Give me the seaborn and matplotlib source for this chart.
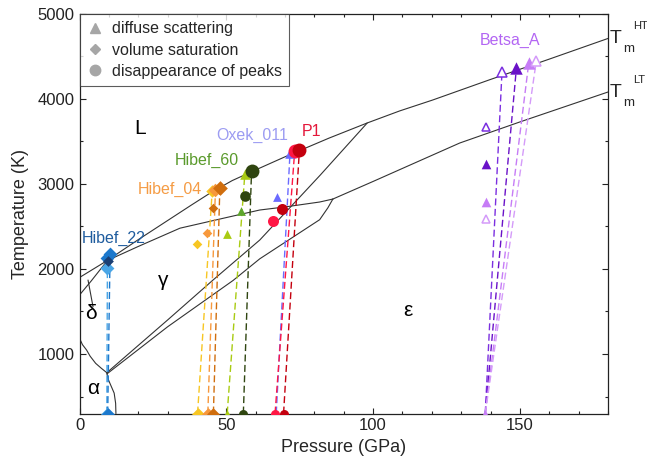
import matplotlib
matplotlib.use('Agg')
import matplotlib.pyplot as plt
import seaborn as sns
from matplotlib.lines import Line2D
from matplotlib.ticker import MultipleLocator
from matplotlib.transforms import blended_transform_factory

# ---------------- data ----------------
T_BASE = 300  # room temperature start of each ramp

# phase boundaries (P in GPa, T in K)
ht_p = [0, 9, 20, 30, 38, 44.8, 52, 58.4, 70, 85, 98, 109, 120.3, 140, 160, 180]
ht_t = [1900, 2090, 2345, 2570, 2750, 2900, 3040, 3141, 3320, 3540, 3718, 3859, 3988, 4230, 4469, 4712]
lt_p = [86.3, 100, 115, 129.5, 150, 180]
lt_t = [2823, 3030, 3260, 3482, 3730, 4082]
gl_p = [0, 4, 9.5, 20, 34.2, 50, 61.4, 70, 81.8, 86.3]
gl_t = [1694, 1860, 2100, 2265, 2480, 2605, 2694, 2730, 2788, 2823]
ge1_p = [98, 82, 61.4, 45.5, 30, 9.3]
ge1_t = [3718, 3105, 2341, 1871, 1400, 780]
ge2_p = [86.3, 84.6, 81.8, 61.4, 52.3, 30, 9.3]
ge2_t = [2823, 2720, 2580, 2120, 1865, 1320, 765]
ag_p = [0, 1, 2.4, 3.6, 5.5, 7.5, 9.3]
ag_t = [1185, 1110, 1047, 975, 890, 830, 780]
ae_p = [9.3, 9.8, 10.8, 11.8, 12.3, 12.4]
ae_t = [780, 700, 620, 540, 420, 300]
dptr_p = [2.9, 4.6]
dptr_t = [1870, 1556]

# Hibef_22 (diamonds)
h22_p0 = [9.3, 9.6]
h22_p1 = [9.5, 10.4]
h22_t1 = [2008, 2176]
h22_c = ['#4aa6e6', '#1c78cc']
h22_mid_p = [9.3, 9.8]
h22_mid_t = [2126, 2098]
h22_mid_c = ['#1c78cc', '#1b3f73']

# Hibef_04 (diamonds)
h04_p0 = [40.2, 43.7, 45.6]
h04_p1 = [45.2, 46.3, 47.8]
h04_t1 = [2918, 2932, 2957]
h04_c = ['#f7c623', '#f7983c', '#d06e0e']
h04_mid_p = [40.1, 43.5, 45.3]
h04_mid_t = [2290, 2427, 2721]

# Hibef_60 (triangles light, circles dark)
h60_tri_p0 = [50.3]
h60_tri_p1 = [56.3]
h60_tri_t1 = [3114]
h60_cir_p0 = [55.8]
h60_cir_p1 = [58.6]
h60_cir_t1 = [3156]
h60_c = ['#a9cb12', '#5ea62c', '#2f4510']
h60_tri_mid_p = [50.4, 55.0]
h60_tri_mid_t = [2412, 2686]
h60_cir_mid_p = [56.3]
h60_cir_mid_t = [2859]

# Oxek_011 (triangles)
ox_p0 = [67.0]
ox_p1 = [71.7]
ox_t1 = [3368]
ox_mid_p = [67.3]
ox_mid_t = [2851]
ox_c = '#6b6bff'

# P1 (circles)
p1_p0 = [66.6, 69.5]
p1_p1 = [73.3, 74.9]
p1_t1 = [3390, 3405]
p1_c = ['#ff1744', '#c4000e']
p1_mid_p = [66.0, 68.8]
p1_mid_t = [2568, 2706]

# Betsa_A (triangles, some hollow)
bet_p0 = 138.2
bet_p1 = [143.9, 148.8, 153.0, 155.6]
bet_t1 = [4321, 4361, 4420, 4451]
bet_mid_p = [138.3, 138.3, 138.3, 138.3]
bet_mid_t = [3667, 3235, 2792, 2585]
bet_c = ['#7b2fe0', '#6a12c8', '#c67cf6', '#d49bf9']
bet_hollow = [True, False, False, True]

# run labels
lab_text = ['Hibef_22', 'Hibef_04', 'Hibef_60', 'Oxek_011', 'P1', 'Betsa_A']
lab_p = [0.6, 19.7, 32.4, 46.6, 75.6, 136.3]
lab_t = [2361, 2941, 3274, 3576, 3615, 4694]
lab_c = ['#1f5c9e', '#f59c45', '#5a9a2c', '#9c9cf2', '#e4173a', '#b366f3']

phase_text = ['L', 'γ', 'δ', 'α', 'ε']
phase_p = [20.5, 28.4, 4.0, 4.6, 112]
phase_t = [3655, 1870, 1479, 596, 1506]

# ---------------- style ----------------
sns.set_theme(style='ticks')
plt.rcParams['font.family'] = ['Liberation Sans', 'DejaVu Sans']
plt.rcParams['axes.edgecolor'] = '#222222'

fig = plt.figure(figsize=(6.47, 4.63), dpi=100)
ax = fig.add_axes([0.1229, 0.1069, 0.8168, 0.8629])

LC = '#333333'
for px, ty in [(ht_p, ht_t), (lt_p, lt_t), (gl_p, gl_t), (ge1_p, ge1_t),
               (ge2_p, ge2_t), (ag_p, ag_t), (ae_p, ae_t), (dptr_p, dptr_t)]:
    ax.plot(px, ty, color=LC, lw=0.8, zorder=1)

DASH = (0, (5, 2.5))
SZ = {'top_o': 100, 'mid_o': 45, 'top_D': 40, 'mid_D': 24,
      'top_^': 58, 'mid_^': 40, 'bot': 42}


def ramp(p0, p1, t1, color, marker, top_size, lw=1.0):
    ax.plot([p0, p1], [T_BASE, t1], ls=DASH, lw=lw, color=color, zorder=2)
    sns.scatterplot(x=[p0], y=[T_BASE], marker=marker, s=SZ['bot'],
                    color=color, linewidth=0, ax=ax, zorder=3, legend=False)
    sns.scatterplot(x=[p1], y=[t1], marker=marker, s=top_size,
                    color=color, linewidth=0, ax=ax, zorder=4, legend=False)


def pts(p, t, color, marker, size):
    sns.scatterplot(x=p, y=t, marker=marker, s=size, color=color,
                    linewidth=0, ax=ax, zorder=4, legend=False)


# Hibef_22
for i in range(2):
    ramp(h22_p0[i], h22_p1[i], h22_t1[i], h22_c[i], 'D', 50)
for i in range(2):
    pts([h22_mid_p[i]], [h22_mid_t[i]], h22_mid_c[i], 'D', 50 if i == 0 else 30)

# Hibef_04
for i in range(3):
    ramp(h04_p0[i], h04_p1[i], h04_t1[i], h04_c[i], 'D', SZ['top_D'] + 8 * i)
    pts([h04_mid_p[i]], [h04_mid_t[i]], h04_c[i], 'D', SZ['mid_D'])

# Hibef_60
ramp(h60_tri_p0[0], h60_tri_p1[0], h60_tri_t1[0], h60_c[0], '^', SZ['top_^'])
ramp(h60_cir_p0[0], h60_cir_p1[0], h60_cir_t1[0], h60_c[2], 'o', SZ['top_o'])
pts([h60_tri_mid_p[0]], [h60_tri_mid_t[0]], h60_c[0], '^', SZ['mid_^'])
pts([h60_tri_mid_p[1]], [h60_tri_mid_t[1]], h60_c[1], '^', SZ['mid_^'])
pts(h60_cir_mid_p, h60_cir_mid_t, h60_c[2], 'o', SZ['mid_o'] * 1.3)

# Oxek_011
ramp(ox_p0[0], ox_p1[0], ox_t1[0], ox_c, '^', SZ['top_^'])
pts(ox_mid_p, ox_mid_t, ox_c, '^', SZ['mid_^'])

# P1
for i in range(2):
    ramp(p1_p0[i], p1_p1[i], p1_t1[i], p1_c[i], 'o', SZ['top_o'])
    pts([p1_mid_p[i]], [p1_mid_t[i]], p1_c[i], 'o', SZ['mid_o'] * 1.4)

# Betsa_A
for i in range(4):
    c = bet_c[i]
    ax.plot([bet_p0, bet_p1[i]], [T_BASE, bet_t1[i]], ls=DASH, lw=1.0, color=c, zorder=2)
    if bet_hollow[i]:
        ax.plot([bet_p1[i]], [bet_t1[i]], marker='^', ms=7.5, mfc='white', mec=c, mew=1.1, ls='none', zorder=4)
        ax.plot([bet_mid_p[i]], [bet_mid_t[i]], marker='^', ms=6, mfc='white', mec=c, mew=1.1, ls='none', zorder=4)
    else:
        pts([bet_p1[i]], [bet_t1[i]], c, '^', 80)
        pts([bet_mid_p[i]], [bet_mid_t[i]], c, '^', SZ['mid_^'] * 1.2)
sns.scatterplot(x=[bet_p0], y=[T_BASE], marker='^', s=SZ['bot'], color=bet_c[2],
                linewidth=0, ax=ax, zorder=3, legend=False)

# labels
for s, p, t, c in zip(lab_text, lab_p, lab_t, lab_c):
    ax.text(p, t, s, color=c, fontsize=11.5, ha='left', va='center', zorder=6)
for s, p, t in zip(phase_text, phase_p, phase_t):
    ax.text(p, t, s, color='black', fontsize=15, ha='center', va='center', zorder=6)

# Tm labels outside right
tr = blended_transform_factory(ax.transAxes, ax.transData)
for tc, sub_y, sup_y, sup in [(4712, 4588, 4859, 'HT'), (4082, 3953, 4224, 'LT')]:
    ax.text(1.004, tc, 'T', transform=tr, fontsize=14, ha='left', va='center', clip_on=False)
    ax.text(1.028, sub_y, 'm', transform=tr, fontsize=9.5, ha='left', va='center', clip_on=False)
    ax.text(1.047, sup_y, sup, transform=tr, fontsize=8, ha='left', va='center', clip_on=False)

# axes
ax.set_xlim(0, 180)
ax.set_ylim(300, 5000)
ax.xaxis.set_major_locator(MultipleLocator(50))
ax.xaxis.set_minor_locator(MultipleLocator(10))
ax.yaxis.set_major_locator(MultipleLocator(1000))
ax.yaxis.set_minor_locator(MultipleLocator(500))
ax.tick_params(which='both', direction='in', top=True, right=True, colors='#222222',
               labelsize=12, width=0.8)
ax.tick_params(which='major', length=4.5)
ax.tick_params(which='minor', length=2.5)
for sp in ax.spines.values():
    sp.set_linewidth(0.9)
    sp.set_visible(True)
ax.set_xlabel('Pressure (GPa)', fontsize=13, labelpad=4)
ax.set_ylabel('Temperature (K)', fontsize=13, labelpad=6)

# legend
g = '#a6a6a6'
handles = [Line2D([], [], marker='^', ls='none', color=g, ms=6.5),
           Line2D([], [], marker='D', ls='none', color=g, ms=5),
           Line2D([], [], marker='o', ls='none', color=g, ms=7.5)]
leg = ax.legend(handles, ['diffuse scattering', 'volume saturation', 'disappearance of peaks'],
                loc='upper left', borderaxespad=0, fontsize=11.5, frameon=True, fancybox=False,
                handlelength=1.0, handletextpad=0.6, borderpad=0.45, labelspacing=0.4)
leg.get_frame().set_edgecolor('#333333')
leg.get_frame().set_linewidth(0.8)
leg.set_zorder(10)

fig.savefig('out.png', dpi=100)
